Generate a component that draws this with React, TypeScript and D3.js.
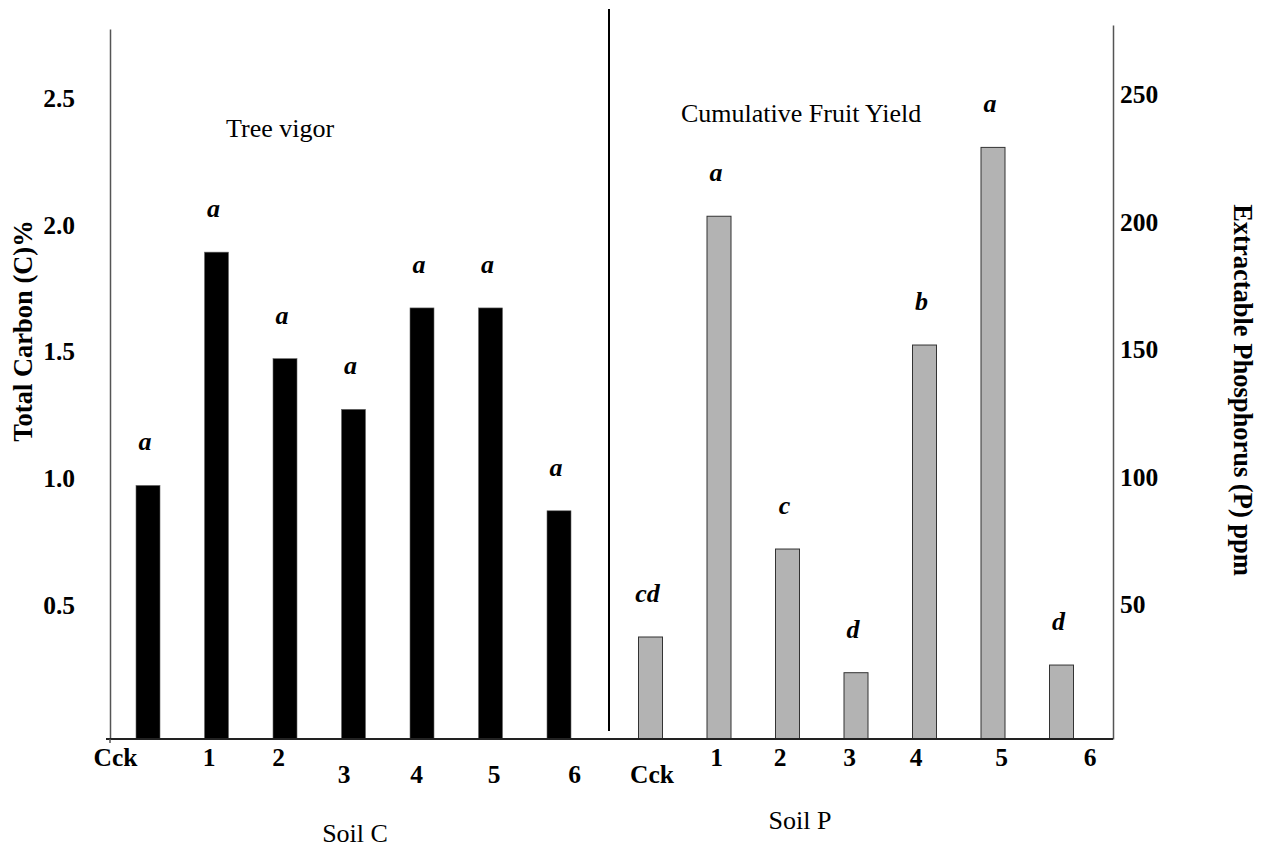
import React, { useRef, useEffect } from "react";
import * as d3 from "d3";

// treatments, same order on both halves
const treatments = ["Cck", "1", "2", "3", "4", "5", "6"];

// Soil C (Total Carbon %), black bars
const carbon = [1.0, 1.92, 1.5, 1.3, 1.7, 1.7, 0.9];
const carbonLetters = ["a", "a", "a", "a", "a", "a", "a"];

// Soil P (Extractable Phosphorus ppm), grey bars
const phosphorus = [40, 205, 74.5, 26, 154.5, 232, 29];
const phosphorusLetters = ["cd", "a", "c", "d", "b", "a", "d"];

const leftTicks = [0.5, 1.0, 1.5, 2.0, 2.5];
const rightTicks = [50, 100, 150, 200, 250];

// the original tick labels are hand placed: small shifts and two rows
const nudgeC = [-33, -8, -7, -10, -6, 3, 15];
const rowC = [0, 0, 0, 1, 1, 1, 1];
const nudgeP = [1, -3, -8, -7, -9, 8, 28];
const rowP = [1, 0, 0, 0, 0, 0, 0];

const FONT = "'Liberation Serif', 'Times New Roman', serif";

const App = () => {
  const svgRef = useRef(null);

  useEffect(() => {
    const svg = d3.select(svgRef.current);
    svg.selectAll("*").remove();

    const base = 739;
    const leftX = 110,
      rightX = 1113;
    const barW = 24;

    const yC = d3.scaleLinear().domain([0, 2.8]).range([base, 29]);
    const yP = d3.scaleLinear().domain([0, 280]).range([base, 25]);

    const xC = d3.scalePoint().domain(treatments).range([148, 559]);
    const xP = d3.scalePoint().domain(treatments).range([650.5, 1061.5]);

    // left axis
    const gl = svg
      .append("g")
      .attr("transform", `translate(${leftX},0)`)
      .call(
        d3
          .axisLeft(yC)
          .tickValues(leftTicks)
          .tickSize(0)
          .tickPadding(35)
          .tickFormat(d3.format(".1f"))
      );
    gl.select(".domain").attr("stroke", "#555").attr("stroke-width", 1.5);
    gl.selectAll("text")
      .attr("dy", "0.05em")
      .style("font-family", FONT)
      .style("font-size", "25.5px")
      .style("font-weight", "bold")
      .attr("fill", "#000");

    // right axis
    const gr = svg
      .append("g")
      .attr("transform", `translate(${rightX},0)`)
      .call(d3.axisRight(yP).tickValues(rightTicks).tickSize(0).tickPadding(7));
    gr.select(".domain").attr("stroke", "#555").attr("stroke-width", 1.5);
    gr.selectAll("text")
      .attr("dy", "0.05em")
      .style("font-family", FONT)
      .style("font-size", "25.5px")
      .style("font-weight", "bold")
      .attr("fill", "#000");

    // bars
    svg
      .append("g")
      .selectAll("rect")
      .data(carbon)
      .join("rect")
      .attr("x", (d, i) => xC(treatments[i]) - barW / 2)
      .attr("y", (d) => yC(d))
      .attr("width", barW)
      .attr("height", (d) => base - yC(d))
      .attr("fill", "#000")
      .attr("stroke", "#666")
      .attr("stroke-width", 0.6);

    svg
      .append("g")
      .selectAll("rect")
      .data(phosphorus)
      .join("rect")
      .attr("x", (d, i) => xP(treatments[i]) - barW / 2)
      .attr("y", (d) => yP(d))
      .attr("width", barW)
      .attr("height", (d) => base - yP(d))
      .attr("fill", "#b3b3b3")
      .attr("stroke", "#333")
      .attr("stroke-width", 1);

    // baseline
    svg
      .append("line")
      .attr("x1", leftX - 4)
      .attr("x2", rightX)
      .attr("y1", base)
      .attr("y2", base)
      .attr("stroke", "#222")
      .attr("stroke-width", 2);
    svg
      .append("line")
      .attr("x1", leftX)
      .attr("x2", leftX)
      .attr("y1", base)
      .attr("y2", base + 4)
      .attr("stroke", "#555")
      .attr("stroke-width", 1.5);

    // divider between the two panels
    svg
      .append("line")
      .attr("x1", 609)
      .attr("x2", 609)
      .attr("y1", 9)
      .attr("y2", 731)
      .attr("stroke", "#000")
      .attr("stroke-width", 2);

    // letters over the bars
    const letterStyle = (sel) =>
      sel
        .attr("text-anchor", "middle")
        .style("font-family", FONT)
        .style("font-size", "26px")
        .style("font-weight", "bold")
        .style("font-style", "italic")
        .attr("fill", "#000");

    svg
      .append("g")
      .selectAll("text")
      .data(carbon)
      .join("text")
      .attr("x", (d, i) => xC(treatments[i]) - 3)
      .attr("y", (d) => yC(d) - 35)
      .text((d, i) => carbonLetters[i])
      .call(letterStyle);

    svg
      .append("g")
      .selectAll("text")
      .data(phosphorus)
      .join("text")
      .attr("x", (d, i) => xP(treatments[i]) - 3)
      .attr("y", (d) => yP(d) - 35)
      .text((d, i) => phosphorusLetters[i])
      .call(letterStyle);

    // x tick labels, two staggered rows
    const xLabels = (scale, nudge, row) => {
      const g = svg
        .append("g")
        .attr("transform", `translate(0,${base})`)
        .call(d3.axisBottom(scale).tickSize(0).tickPadding(0));
      g.select(".domain").remove();
      g.selectAll(".tick text")
        .attr("x", (d, i) => nudge[i])
        .attr("y", (d, i) => (row[i] ? 44 : 27))
        .attr("dy", 0)
        .style("font-family", FONT)
        .style("font-size", "25.5px")
        .style("font-weight", "bold")
        .attr("fill", "#000");
    };
    xLabels(xC, nudgeC, rowC);
    xLabels(xP, nudgeP, rowP);

    const plain = (x, y, txt, anchor) =>
      svg
        .append("text")
        .attr("x", x)
        .attr("y", y)
        .attr("text-anchor", anchor)
        .style("font-family", FONT)
        .style("font-size", "26px")
        .attr("fill", "#000")
        .text(txt);

    plain(226, 137, "Tree vigor", "start");
    plain(681, 122, "Cumulative Fruit Yield", "start");
    plain(355, 842, "Soil C", "middle");
    plain(800, 829, "Soil P", "middle");

    // axis titles
    svg
      .append("text")
      .attr("transform", "translate(32,331) rotate(-90)")
      .attr("text-anchor", "middle")
      .style("font-family", FONT)
      .style("font-size", "26.5px")
      .style("font-weight", "bold")
      .attr("fill", "#000")
      .text("Total Carbon (C)%");

    svg
      .append("text")
      .attr("transform", "translate(1234,390) rotate(90)")
      .attr("text-anchor", "middle")
      .style("font-family", FONT)
      .style("font-size", "26.5px")
      .style("font-weight", "bold")
      .attr("fill", "#000")
      .text("Extractable Phosphorus (P) ppm");
  }, []);

  return (
    <svg
      ref={svgRef}
      width={1267}
      height={849}
      style={{ position: "absolute", left: 0, top: 0, background: "#fff" }}
    ></svg>
  );
};

export default App;
